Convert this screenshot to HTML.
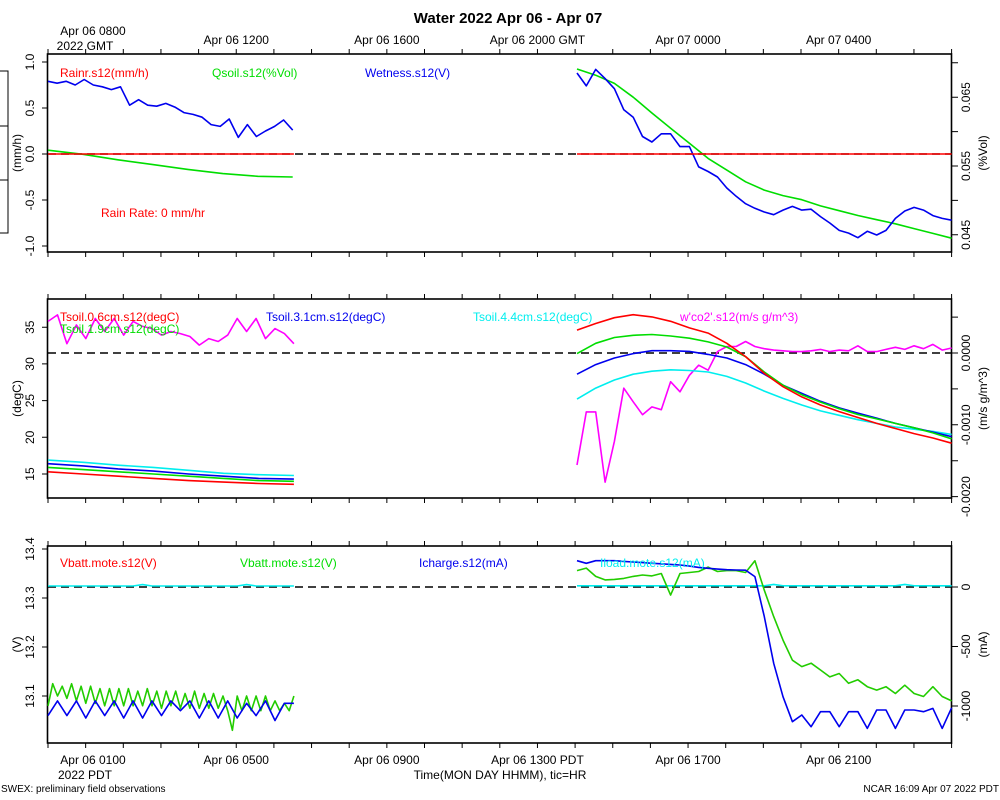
<!DOCTYPE html>
<html><head><meta charset="utf-8"><style>
body{margin:0;background:#fff;}
svg{display:block;font-family:"Liberation Sans",sans-serif;}
</style></head><body>
<svg id="chart" width="1000" height="800" viewBox="0 0 1000 800">
<text x="508" y="23" font-size="15" font-weight="bold" text-anchor="middle">Water 2022 Apr 06 - Apr 07</text>
<text x="93" y="35" font-size="12" text-anchor="middle">Apr 06 0800</text>
<text x="85" y="50" font-size="12" text-anchor="middle">2022 GMT</text>
<text x="93" y="764" font-size="12" text-anchor="middle">Apr 06 0100</text>
<text x="85" y="779" font-size="12" text-anchor="middle">2022 PDT</text>
<text x="500" y="779" font-size="12" text-anchor="middle">Time(MON DAY HHMM), tic=HR</text>
<text x="1" y="792" font-size="10">SWEX: preliminary field observations</text>
<text x="999" y="792" font-size="10" text-anchor="end">NCAR 16:09 Apr 07 2022 PDT</text>
<g stroke="#000" stroke-width="1" fill="none">
<path d="M0 71H8V233H0M0 126H8M0 180H8"/>
</g>
<g id="plot"></g>
</svg>
<script>
// time in hours since Apr 06 0700 GMT
const topTickHours=[5,9,13,17,21];
const topTickLabels=["Apr 06 1200","Apr 06 1600","Apr 06 2000 GMT","Apr 07 0000","Apr 07 0400"];
const botTickLabels=["Apr 06 0500","Apr 06 0900","Apr 06 1300 PDT","Apr 06 1700","Apr 06 2100"];

// Panel 1
const p1LeftTicks=[1.0,0.5,0.0,-0.5,-1.0];
const p1LeftLabels=["1.0","0.5","0.0","-0.5","-1.0"];
const p1RightTicks=[0.045,0.050,0.055,0.060,0.065,0.070];
const p1RightLabels=["0.045","","0.055","","0.065",""];
const rainSeg1=[0,0];
const rainSeg2=[0,0];
const wetSeg1=[0.79,0.77,0.79,0.75,0.81,0.75,0.73,0.70,0.73,0.53,0.59,0.53,0.52,0.55,0.51,0.45,0.43,0.40,0.32,0.30,0.38,0.18,0.32,0.19,0.25,0.30,0.37,0.26];
const wetSeg2=[0.88,0.74,0.92,0.82,0.71,0.48,0.40,0.19,0.13,0.22,0.22,0.08,0.08,-0.14,-0.19,-0.25,-0.37,-0.46,-0.54,-0.59,-0.63,-0.66,-0.61,-0.57,-0.61,-0.60,-0.68,-0.75,-0.83,-0.86,-0.91,-0.84,-0.88,-0.83,-0.70,-0.62,-0.58,-0.61,-0.67,-0.70,-0.72];
const qsoilSeg1=[0.0573,0.0567,0.0559,0.0552,0.0545,0.0539,0.0535,0.0534];
const qsoilSeg2=[0.0691,0.0682,0.0670,0.0650,0.0627,0.0605,0.0583,0.0561,0.0544,0.0527,0.0515,0.0507,0.0501,0.0492,0.0485,0.0478,0.0472,0.0466,0.0459,0.0452,0.0445];

// Panel 2
const p2LeftTicks=[35,30,25,20,15];
const p2RightTicks=[0.0005,0,-0.0005,-0.001,-0.0015,-0.002];
const p2RightLabels=["","0.0000","","-0.0010","","-0.0020"];
const ts06Seg1=[15.3,15.0,14.7,14.4,14.1,13.9,13.7,13.6];
const ts19Seg1=[15.9,15.6,15.3,15.0,14.7,14.4,14.1,14.0];
const ts31Seg1=[16.4,16.1,15.7,15.4,15.0,14.7,14.4,14.3];
const ts44Seg1=[16.9,16.6,16.2,15.9,15.5,15.1,14.9,14.8];
const ts06Seg2=[34.6,35.5,36.3,36.7,36.4,35.8,34.9,34.2,32.8,31.0,28.7,26.9,25.5,24.4,23.5,22.7,21.9,21.2,20.5,19.9,19.2];
const ts19Seg2=[31.4,32.8,33.6,33.9,34.0,33.8,33.5,33.0,32.3,31.0,28.9,27.1,25.8,24.8,23.9,23.1,22.5,21.9,21.3,20.6,19.8];
const ts31Seg2=[28.6,29.9,30.8,31.4,31.8,31.8,31.7,31.3,30.8,29.9,28.6,27.1,26.0,24.9,24.0,23.3,22.6,21.9,21.3,20.7,20.1];
const ts44Seg2=[25.2,26.7,27.8,28.6,29.0,29.2,29.1,28.9,28.3,27.4,26.3,25.3,24.4,23.6,23.0,22.4,21.9,21.4,21.1,20.8,20.4];
const co2Seg1=[0.00044,0.00053,0.00013,0.00039,0.00020,0.00048,0.00030,0.00048,0.00025,0.00044,0.00037,0.00034,0.00025,0.00030,0.00027,0.00023,0.00011,0.00020,0.00016,0.00025,0.00048,0.00030,0.00048,0.00020,0.00034,0.00027,0.00013];
const co2Seg2=[-0.00156,-0.00082,-0.00082,-0.00180,-0.00123,-0.00049,-0.00068,-0.00086,-0.00075,-0.00079,-0.00040,-0.00054,-0.00031,-0.00017,-0.00024,0.00002,0.00009,0.00009,0.00016,0.00009,0.00006,0.00004,0.00003,0.00002,0.00002,0.00003,0.00005,0.00002,0.00004,0.00003,0.00010,0.00002,0.00002,0.00005,0.00008,0.00005,0.00010,0.00006,0.00012,0.00004,0.00007];

// Panel 3
const p3LeftTicks=[13.4,13.3,13.2,13.1];
const p3RightTicks=[0,-500,-1000];
const vbattSeg1=[13.08,13.125,13.10,13.12,13.095,13.125,13.09,13.12,13.085,13.12,13.085,13.115,13.08,13.115,13.08,13.115,13.08,13.115,13.08,13.11,13.08,13.115,13.08,13.11,13.075,13.11,13.08,13.11,13.075,13.105,13.075,13.11,13.075,13.105,13.075,13.105,13.075,13.10,13.07,13.03,13.10,13.07,13.10,13.07,13.10,13.07,13.10,13.07,13.09,13.07,13.085,13.07,13.10];
const vbatt2Seg1=[13.06,13.09,13.06,13.09,13.055,13.09,13.06,13.09,13.055,13.09,13.055,13.09,13.06,13.09,13.07,13.09,13.055,13.09,13.055,13.09,13.055,13.085,13.06,13.09,13.05,13.085,13.085];
const vbattSeg2=[13.356,13.361,13.344,13.337,13.338,13.340,13.344,13.347,13.345,13.350,13.306,13.350,13.352,13.354,13.363,13.354,13.356,13.356,13.352,13.376,13.316,13.262,13.214,13.173,13.160,13.167,13.153,13.139,13.146,13.126,13.133,13.119,13.112,13.119,13.105,13.122,13.105,13.099,13.119,13.099,13.090];
const ichargeSeg2=[221,199,221,221,221,215,210,205,199,195,190,185,176,165,157,150,145,143,141,87,-249,-641,-922,-1132,-1076,-1174,-1048,-1048,-1174,-1048,-1048,-1188,-1034,-1034,-1188,-1034,-1034,-1048,-1020,-1188,-1015];
const iloadSeg1=[8,8,8,8,8,8,8,8,8,8,20,8,8,8,8,8,8,8,8,8,8,20,8,8,8,8,8];
const iloadSeg2=[10,10,10,10,10,10,10,10,10,10,10,10,10,10,10,10,10,10,10,10,10,22,10,10,10,10,10,10,10,10,10,10,10,10,10,22,10,10,10,10,10];

const NS="http://www.w3.org/2000/svg";
const plot=document.getElementById('plot');
const X=t=>48+t*37.65;
function mk(tag,attrs,parent){const e=document.createElementNS(NS,tag);for(const k in attrs)e.setAttribute(k,attrs[k]);(parent||plot).appendChild(e);return e;}
function txt(x,y,s,attrs,parent){const e=mk('text',Object.assign({x:x,y:y,'font-size':12},attrs||{}),parent);e.textContent=s;return e;}
function line(vals,t0,step,yf,color,name){
  const d=vals.map((v,i)=>(i?'L':'M')+X(t0+i*step).toFixed(1)+' '+yf(v).toFixed(1)).join('');
  const p=mk('path',{d:d,fill:'none',stroke:color,'stroke-width':1.6,'stroke-linejoin':'round'});
  
  
}
function rot(x,y,s,name,anchor){
  const e=txt(x,y,s,{transform:'rotate(-90 '+x+' '+y+')','text-anchor':anchor||'middle'});
  
  
}
const panels=[
 {top:54,bot:252,yL:v=>154-v*92,yR:v=>166-(v-0.055)/0.005*34.4,dash:154,lt:p1LeftTicks,ll:p1LeftLabels,rt:p1RightTicks,rl:p1RightLabels,lTitle:'(mm/h)',rTitle:'(%Vol)'},
 {top:299,bot:498,yL:v=>474-(v-15)*7.34,yR:v=>353-v/0.001*71.8,dash:353,lt:p2LeftTicks,ll:p2LeftTicks.map(String),rt:p2RightTicks,rl:p2RightLabels,lTitle:'(degC)',rTitle:'(m/s g/m^3)'},
 {top:546,bot:743,yL:v=>696-(v-13.1)*490,yR:v=>587-v*0.119,dash:587,lt:p3LeftTicks,ll:p3LeftTicks.map(v=>v.toFixed(1)),rt:p3RightTicks,rl:p3RightTicks.map(String),lTitle:'(V)',rTitle:'(mA)'}
];
panels.forEach((p,pi)=>{
  const fr=mk('rect',{x:47.5,y:p.top,width:904,height:p.bot-p.top,fill:'none',stroke:'#000','stroke-width':1.6});
  
  
  let d='';
  for(let h=0;h<=24;h++){const x=X(h);d+='M'+x+' '+p.top+'V'+(p.top-5)+'M'+x+' '+p.bot+'V'+(p.bot+5);}
  p.lt.forEach(v=>{const y=p.yL(v);d+='M47.5 '+y+'H42';});
  p.rt.forEach(v=>{const y=p.yR(v);d+='M951.5 '+y+'H958';});
  const tk=mk('path',{d:d,stroke:'#000','stroke-width':1});
  
  
  p.lt.forEach((v,i)=>rot(34,p.yL(v),p.ll[i],'left-tick-label'));
  p.rt.forEach((v,i)=>{if(p.rl[i])rot(970,p.yR(v),p.rl[i],'right-tick-label');});
  rot(21,(p.top+p.bot)/2,p.lTitle,'left-axis-title');
  rot(987,(p.top+p.bot)/2,p.rTitle,'right-axis-title');
  const dl=mk('line',{x1:48,x2:951,y1:p.dash,y2:p.dash,stroke:'#000','stroke-width':1.6,'stroke-dasharray':'8 5'});
  
  
});
topTickHours.forEach((h,i)=>{
  const a=txt(X(h),44,topTickLabels[i],{'text-anchor':'middle'});
  
  
  const b=txt(X(h),764,botTickLabels[i],{'text-anchor':'middle'});
  
  
});
const P1=panels[0],P2=panels[1],P3=panels[2];
// panel 1
line(qsoilSeg1,0,0.9286,P1.yR,'#00dd00','qsoil-seg1');
line(qsoilSeg2,14.05,0.4975,P1.yR,'#00dd00','qsoil-seg2');
line(wetSeg1,0,0.2407,P1.yL,'#0000ee','wetness-seg1');
line(wetSeg2,14.05,0.24875,P1.yL,'#0000ee','wetness-seg2');
line(rainSeg1,0,6.53,P1.yL,'#ff0000','rain-seg1');
line(rainSeg2,14.05,9.95,P1.yL,'#ff0000','rain-seg2');
// panel 2
line(co2Seg1,0,0.2512,P2.yR,'#ff00ff','wco2-seg1');
line(co2Seg2,14.05,0.24875,P2.yR,'#ff00ff','wco2-seg2');
line(ts44Seg1,0,0.9329,P2.yL,'#00eeee','tsoil-4.4-seg1');
line(ts31Seg1,0,0.9329,P2.yL,'#0000ee','tsoil-3.1-seg1');
line(ts19Seg1,0,0.9329,P2.yL,'#00dd00','tsoil-1.9-seg1');
line(ts06Seg1,0,0.9329,P2.yL,'#ff0000','tsoil-0.6-seg1');
line(ts44Seg2,14.05,0.4975,P2.yL,'#00eeee','tsoil-4.4-seg2');
line(ts31Seg2,14.05,0.4975,P2.yL,'#0000ee','tsoil-3.1-seg2');
line(ts19Seg2,14.05,0.4975,P2.yL,'#00dd00','tsoil-1.9-seg2');
line(ts06Seg2,14.05,0.4975,P2.yL,'#ff0000','tsoil-0.6-seg2');
// panel 3
line(iloadSeg1,0,0.2512,P3.yR,'#00eeee','iload-seg1');
line(iloadSeg2,14.05,0.24875,P3.yR,'#00eeee','iload-seg2');
line(vbattSeg1,0,0.1256,P3.yL,'#22cc00','vbatt-seg1');
line(vbatt2Seg1,0,0.2512,P3.yL,'#0000ee','icharge-seg1');
line(vbattSeg2,14.05,0.24875,P3.yL,'#22cc00','vbatt-seg2');
line(ichargeSeg2,14.05,0.24875,P3.yR,'#0000ee','icharge-seg2');
// legends
const legends=[
 [60,77,'Rainr.s12(mm/h)','#ff0000'],[212,77,'Qsoil.s12(%Vol)','#00dd00'],[365,77,'Wetness.s12(V)','#0000ee'],
 [101,217,'Rain Rate: 0 mm/hr','#ff0000'],
 [60,321,'Tsoil.0.6cm.s12(degC)','#ff0000'],[60,333,'Tsoil.1.9cm.s12(degC)','#00dd00'],[266,321,'Tsoil.3.1cm.s12(degC)','#0000ee'],
 [473,321,'Tsoil.4.4cm.s12(degC)','#00eeee'],[680,321,"w'co2'.s12(m/s g/m^3)",'#ff00ff'],
 [60,567,'Vbatt.mote.s12(V)','#ff0000'],[240,567,'Vbatt.mote.s12(V)','#00dd00'],[419,567,'Icharge.s12(mA)','#0000ee'],[600,567,'Iload.mote.s12(mA)','#00eeee']
];
legends.forEach(l=>{
  const e=txt(l[0],l[1],l[2],{fill:l[3]});
  
  
});
</script>
</body></html>
